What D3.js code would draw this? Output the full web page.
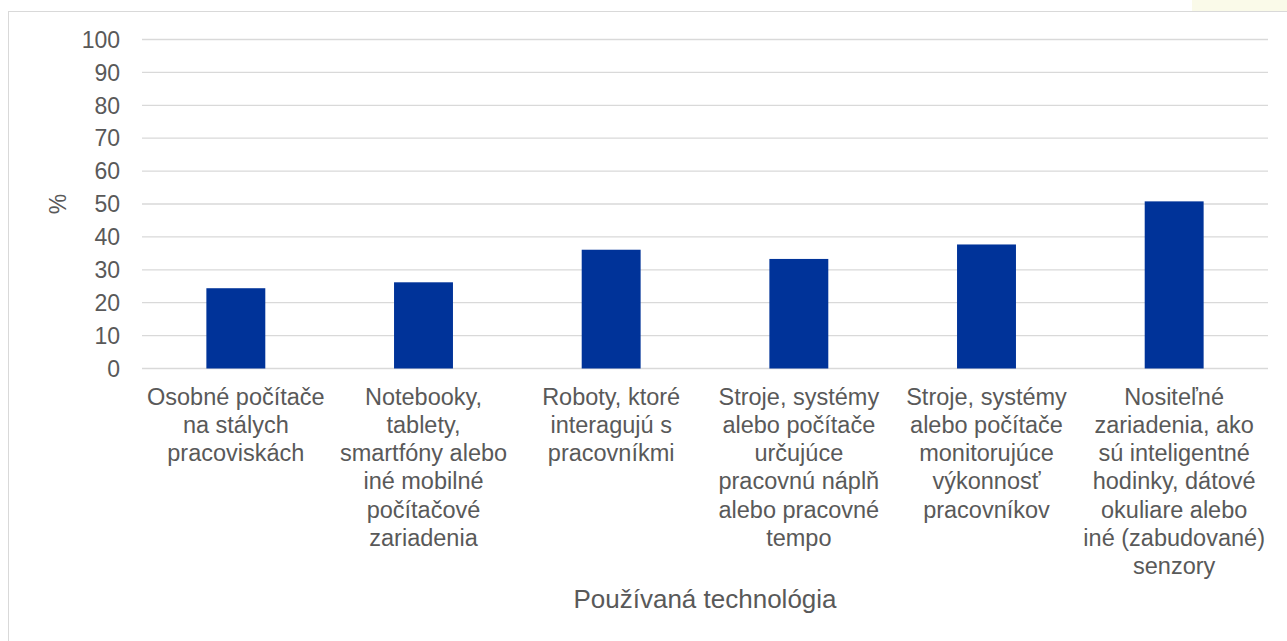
<!DOCTYPE html>
<html>
<head>
<meta charset="utf-8">
<script src="https://cdn.jsdelivr.net/npm/d3@7"></script>
<style>
  html, body { margin: 0; padding: 0; background: #ffffff; }
  svg { display: block; }
</style>
</head>
<body>
<svg id="chart" width="1287" height="641"></svg>
<script>
const categories = [
  "Osobné počítače\nna stálych\npracoviskách",
  "Notebooky,\ntablety,\nsmartfóny alebo\niné mobilné\npočítačové\nzariadenia",
  "Roboty, ktoré\ninteragujú s\npracovníkmi",
  "Stroje, systémy\nalebo počítače\nurčujúce\npracovnú náplň\nalebo pracovné\ntempo",
  "Stroje, systémy\nalebo počítače\nmonitorujúce\nvýkonnosť\npracovníkov",
  "Nositeľné\nzariadenia, ako\nsú inteligentné\nhodinky, dátové\nokuliare alebo\niné (zabudované)\nsenzory"
];
const values = [24.4, 26.2, 36.1, 33.3, 37.7, 50.8];
const yTicks = [0, 10, 20, 30, 40, 50, 60, 70, 80, 90, 100];
const xTitle = "Používaná technológia";
const yTitle = "%";

const svg = d3.select("#chart");
const font = "'Liberation Sans', Arial, sans-serif";
const textColor = "#595959";

// background decoration: pale highlight top right + chart border
svg.append("rect").attr("x", 1192).attr("y", 0).attr("width", 95).attr("height", 11)
  .attr("fill", "#fafae9");
svg.append("rect").attr("x", 8.5).attr("y", 11.5).attr("width", 1300).attr("height", 700)
  .attr("fill", "none").attr("stroke", "#d9d9d9").attr("stroke-width", 1);

const plot = { left: 142, right: 1268, top: 39.5, bottom: 368.5 };

const x = d3.scaleBand().domain(categories).range([plot.left, plot.right])
  .paddingInner(0.686).paddingOuter(0.343);
const y = d3.scaleLinear().domain([0, 100]).range([plot.bottom, plot.top]);

// gridlines
svg.append("g").selectAll("line").data(yTicks).join("line")
  .attr("x1", plot.left).attr("x2", plot.right)
  .attr("y1", d => y(d)).attr("y2", d => y(d))
  .attr("stroke", "#d9d9d9").attr("stroke-width", 1.3);

// y tick labels
svg.append("g").selectAll("text").data(yTicks).join("text")
  .attr("x", 120).attr("y", d => y(d)).attr("dy", "0.36em")
  .attr("text-anchor", "end")
  .attr("font-family", font).attr("font-size", 23).attr("fill", textColor)
  .text(d => d);

// bars
svg.append("g").selectAll("rect").data(values).join("rect")
  .attr("x", (d, i) => x(categories[i]))
  .attr("width", x.bandwidth())
  .attr("y", d => y(d))
  .attr("height", d => y(0) - y(d))
  .attr("fill", "#003399");

// category labels
const lab = svg.append("g");
categories.forEach(c => {
  const lines = c.split("\n");
  const t = lab.append("text")
    .attr("text-anchor", "middle")
    .attr("font-family", font).attr("font-size", 23.5).attr("fill", textColor);
  lines.forEach((ln, j) => {
    t.append("tspan").attr("x", x(c) + x.bandwidth() / 2)
      .attr("y", 404.5 + j * 28.3).text(ln);
  });
});

// axis titles
svg.append("text").attr("x", (plot.left + plot.right) / 2).attr("y", 608)
  .attr("text-anchor", "middle")
  .attr("font-family", font).attr("font-size", 26).attr("fill", textColor)
  .text(xTitle);

svg.append("text").attr("transform", "translate(66,204) rotate(-90)")
  .attr("text-anchor", "middle")
  .attr("font-family", font).attr("font-size", 23).attr("fill", textColor)
  .text(yTitle);
</script>
</body>
</html>
